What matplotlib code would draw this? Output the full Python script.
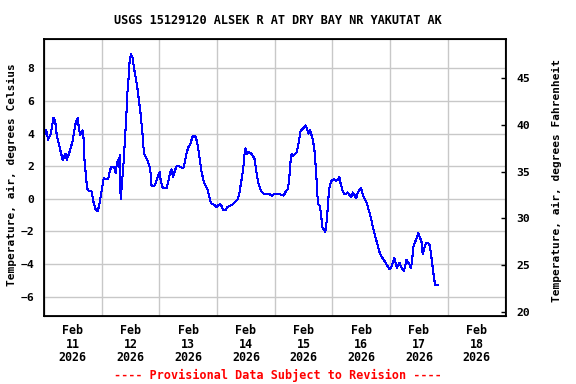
import matplotlib
matplotlib.use("Agg")
import matplotlib.pyplot as plt
import matplotlib.dates as mdates
import numpy as np
import pandas as pd

# hours since 2026-02-11 00:00 and air temperature (deg C)
hours = [0.0, 0.89, 1.72, 2.82, 3.93, 4.62, 5.31, 6.28, 7.11, 7.81, 8.36, 8.91, 9.47, 10.16,
         10.85, 11.96, 12.65, 13.34, 14.03, 14.45, 15.00, 15.42, 16.11, 16.53, 16.80, 17.36,
         17.91, 18.46, 19.85, 20.54, 21.51, 22.20, 22.89, 23.58, 24.28, 24.83, 26.08, 26.77,
         27.46, 28.15, 29.12, 29.81, 30.23, 30.78, 31.20, 31.47, 31.89, 32.30, 32.99, 33.41,
         33.83, 34.24, 34.66, 35.21, 35.63, 36.18, 36.87, 37.29, 38.12, 38.81, 39.50, 40.19,
         41.02, 41.58, 42.27, 42.96, 43.79, 44.35, 44.76, 45.87, 46.42, 46.84, 47.53, 48.22,
         48.50, 49.19, 49.88, 50.99, 51.68, 52.51, 53.07, 53.62, 54.31, 55.14, 55.83, 56.53,
         57.91, 58.60, 59.30, 59.99, 60.96, 61.65, 62.34, 63.17, 63.73, 64.28, 64.83, 65.53,
         66.49, 67.18, 68.01, 68.57, 69.40, 70.09, 71.06, 71.75, 72.44, 73.14, 73.83, 74.52,
         75.63, 76.32, 77.29, 78.26, 79.09, 79.78, 80.61, 81.16, 81.72, 82.41, 82.83, 83.38,
         83.80, 84.49, 85.18, 85.87, 86.70, 87.53, 88.08, 88.78, 89.47, 90.30, 91.13, 91.82,
         93.90, 95.00, 95.56, 98.05, 99.02, 99.71, 100.54, 101.51, 102.20, 102.62, 103.04,
         103.45, 104.01, 104.98, 105.67, 106.36, 106.78, 107.74, 108.85, 109.40, 110.09,
         110.65, 111.20, 111.89, 112.59, 113.28, 113.69, 113.97, 114.66, 115.21, 115.77,
         116.46, 117.01, 117.70, 118.26, 118.67, 119.23, 119.78, 120.61, 121.58, 122.27,
         122.82, 123.38, 124.35, 125.04, 125.73, 126.42, 127.11, 127.81, 128.50, 129.19,
         129.88, 130.58, 131.27, 131.96, 132.65, 133.34, 134.31, 135.00, 135.70, 136.39,
         137.22, 138.19, 138.88, 139.57, 140.26, 140.96, 141.93, 142.76, 143.73, 144.42,
         145.11, 145.67, 146.22, 146.78, 147.33, 147.88, 148.44, 148.99, 149.68, 150.24,
         150.79, 151.35, 152.04, 152.59, 153.15, 153.56, 154.11, 154.80, 155.77, 156.47,
         157.02, 157.57, 158.26, 158.96, 159.65, 160.34, 160.76, 161.31, 161.86, 162.41,
         162.83, 163.94]
temp_c = [3.90, 4.24, 3.63, 3.99, 4.97, 4.81, 3.90, 3.29, 2.78, 2.38, 2.58, 2.78, 2.38, 2.68,
          2.98, 3.59, 4.24, 4.77, 4.97, 4.41, 3.90, 4.04, 4.20, 3.59, 2.48, 1.56,
          0.65, 0.51, 0.45, -0.16, -0.67, -0.77, -0.47, 0.14, 0.75, 1.26, 1.20, 1.26,
          1.77, 1.97, 1.97, 1.56, 2.07, 2.38, 1.97, 2.68, -0.02, 0.75, 1.97, 2.98,
          3.90, 5.02, 6.44, 7.45, 8.47, 8.87, 8.67, 8.16, 7.45, 6.84, 6.03, 5.22,
          3.90, 2.78, 2.58, 2.38, 2.07, 1.56, 0.79, 0.79, 0.95, 1.16, 1.46, 1.66,
          1.16, 0.75, 0.65, 0.65, 1.06, 1.66, 1.81, 1.36, 1.66, 2.01, 2.01, 1.97,
          1.87, 2.27, 2.78, 3.15, 3.39, 3.76, 3.86, 3.80, 3.43, 2.98, 2.38, 1.66,
          1.06, 0.81, 0.59, 0.24, -0.26, -0.32, -0.39, -0.51, -0.39, -0.32, -0.43, -0.67,
          -0.67, -0.51, -0.43, -0.35, -0.26, -0.16, 0.00, 0.24, 0.75, 1.36, 1.77, 2.68,
          3.09, 2.78, 2.88, 2.82, 2.68, 2.48, 1.97, 1.26, 0.81, 0.49, 0.35, 0.28,
          0.28, 0.18, 0.28, 0.28, 0.24, 0.20, 0.45, 0.59, 1.56, 2.38, 2.78,
          2.62, 2.68, 2.82, 3.19, 3.80, 4.20, 4.30, 4.51, 4.30, 4.00,
          4.20, 3.96, 3.59, 2.88, 1.46, 0.35, -0.32, -0.41, -0.87, -1.73,
          -1.89, -2.03, -1.28, -0.06, 0.65, 0.95, 1.16, 1.20, 1.12, 1.16,
          1.36, 0.95, 0.45, 0.28, 0.30, 0.39, 0.24, 0.14, 0.39, 0.24,
          0.04, 0.39, 0.55, 0.65, 0.24, 0.02, -0.26, -0.63, -0.97, -1.44,
          -1.99, -2.50, -2.86, -3.25, -3.51, -3.65, -3.88, -4.08, -4.32, -4.22,
          -3.92, -3.61, -3.92, -4.22, -4.04, -3.92, -4.12, -4.28, -4.43, -4.12,
          -3.72, -3.88, -4.02, -4.22, -3.82, -3.01, -2.74, -2.50, -2.09, -2.40,
          -2.60, -3.41, -3.01, -2.70, -2.70, -2.80, -3.11, -3.72, -4.39, -5.00,
          -5.30, -5.30]

start = pd.Timestamp("2026-02-11 00:00")
times = start + pd.to_timedelta(hours, unit="h")

c_ticks = [-6, -4, -2, 0, 2, 4, 6, 8]
f_ticks = [20, 25, 30, 35, 40, 45]

font = "DejaVu Sans Mono"
plt.rcParams["font.family"] = font
plt.rcParams["font.weight"] = "bold"

fig = plt.figure(figsize=(5.76, 3.84), dpi=100)
ax = fig.add_axes([44 / 576, 68 / 384, 461.5 / 576, 277 / 384])

ax.plot(times, temp_c, color="#0000ff", linewidth=0.75, antialiased=False, zorder=3)

ax.set_xlim(start, start + pd.Timedelta(days=8))
ax.set_ylim(-7.18, 9.80)
ax.set_yticks(c_ticks)

# labels at noon, grid at midnight
ax.xaxis.set_major_locator(mdates.HourLocator(byhour=[12]))
ax.xaxis.set_major_formatter(mdates.DateFormatter("%b\n%d\n%Y"))
ax.xaxis.set_minor_locator(mdates.DayLocator())
ax.tick_params(axis="x", which="major", length=0, pad=6, labelsize=8.4)
ax.tick_params(axis="x", which="minor", length=0)
ax.tick_params(axis="y", length=0, pad=7, labelsize=8.2)
for lab in ax.get_xticklabels():
    lab.set_linespacing(1.05)

ax.grid(True, axis="x", which="minor", color="#c8c8c8", linewidth=1.0)
ax.grid(True, axis="y", which="major", color="#c8c8c8", linewidth=1.0)
ax.set_axisbelow(True)

for s in ax.spines.values():
    s.set_linewidth(1.3)

ax2 = ax.twinx()
ax2.set_ylim(19.54, 49.21)
ax2.set_yticks(f_ticks)
ax2.tick_params(axis="y", direction="in", length=3, width=1, pad=8, labelsize=8.2)

fig.text(12 / 576, 1 - 175 / 384, "Temperature, air, degrees Celsius",
         rotation=90, ha="center", va="center", fontsize=8.0)
fig.text(557 / 576, 1 - 180 / 384, "Temperature, air, degrees Fahrenheit",
         rotation=90, ha="center", va="center", fontsize=8.0)
fig.text(278 / 576, 1 - 20 / 384, "USGS 15129120 ALSEK R AT DRY BAY NR YAKUTAT AK",
         ha="center", va="center", fontsize=8.6)
fig.text(278 / 576, 1 - 375 / 384, "---- Provisional Data Subject to Revision ----",
         ha="center", va="center", fontsize=8.5, color="#ff0000")

fig.savefig("out.png", dpi=100, facecolor="white")
